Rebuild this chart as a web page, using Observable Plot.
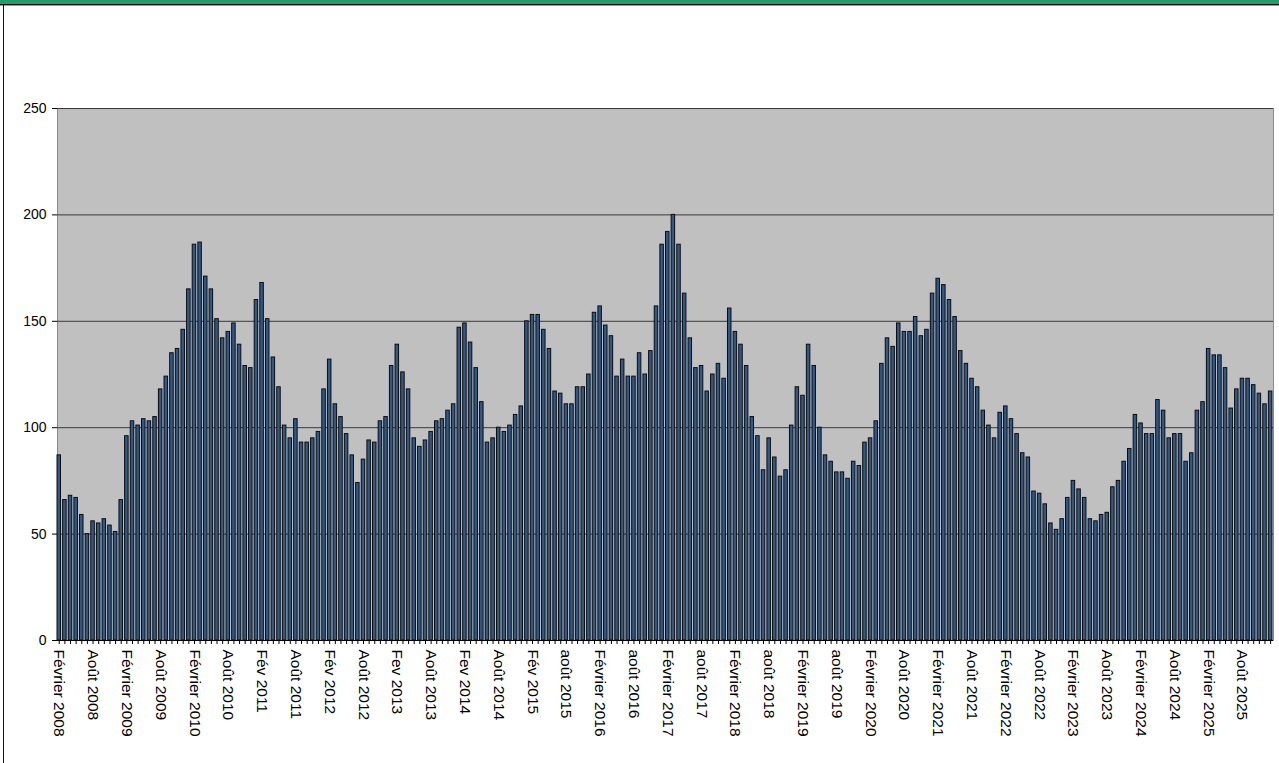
<!DOCTYPE html>
<html>
<head>
<meta charset="utf-8">
<script src="https://cdn.jsdelivr.net/npm/d3@7"></script>
<script src="https://cdn.jsdelivr.net/npm/@observablehq/plot@0.6"></script>
<style>
  html, body { margin: 0; padding: 0; background: #fff; }
  #wrap { position: relative; width: 1279px; height: 763px; overflow: hidden; font-family: "Liberation Sans", Arial, sans-serif; }
  #band { position: absolute; left: 0; top: 0; width: 1279px; height: 4px; background: #239c69; }
  #topline { position: absolute; left: 0; top: 4px; width: 1279px; height: 1px; background: #111; }
  #topline2 { position: absolute; left: 0; top: 5px; width: 1279px; height: 1px; background: #999; }
  #leftline { position: absolute; left: 3px; top: 5px; width: 1px; height: 758px; background: #111; }
  #chart { position: absolute; left: 0; top: 0; }
</style>
</head>
<body>
<div id="wrap">
  <div id="chart"></div>
  <div id="band"></div>
  <div id="topline"></div>
  <div id="topline2"></div>
  <div id="leftline"></div>
</div>
<script>
// Monthly values, February 2008 to January 2026
const values = [
  87,66,68,67,59,50,56,55,57,54,51,66,96,103,101,104,103,105,118,124,135,137,146,165,186,187,171,165,151,142,145,149,139,129,128,160,
  168,151,133,119,101,95,104,93,93,95,98,118,132,111,105,97,87,74,85,94,93,103,105,129,139,126,118,95,91,94,98,103,104,108,111,147,149,
  140,128,112,93,95,100,98,101,106,110,150,153,153,146,137,117,116,111,111,119,119,125,154,157,148,143,124,132,124,124,135,125,136,157,186,192,
  200,186,163,142,128,129,117,125,130,123,156,145,139,129,105,96,80,95,86,77,80,101,119,115,139,129,100,87,84,79,79,76,84,82,93,95,103,
  130,142,138,149,145,145,152,143,146,163,170,167,160,152,136,130,123,119,108,101,95,107,110,104,97,88,86,70,69,64,55,52,57,67,75,
  71,67,57,56,59,60,72,75,84,90,106,102,97,97,113,108,95,97,97,84,88,108,112,137,134,134,128,109,118,123,123,120,116,111,117
];

// Tick labels, one every six months starting with February 2008
const tickLabels = [
  "Février 2008","Août 2008","Février 2009","Août 2009","Février 2010","Août 2010",
  "Fév 2011","Août 2011","Fév 2012","Août 2012","Fev 2013","Août 2013",
  "Fev 2014","Août 2014","Fév 2015","août 2015","Février 2016","août 2016",
  "Février 2017","août 2017","Février 2018","août 2018","Février 2019","août 2019",
  "Février 2020","Août 2020","Février 2021","Août 2021","Février 2022","Août 2022",
  "Février 2023","Août 2023","Février 2024","Août 2024","Février 2025","Août 2025"
];

const yTicks = [0, 50, 100, 150, 200, 250];

const months = values.map((_, i) => i);
const data = months.map(i => ({m: i, v: values[i]}));

const chart = Plot.plot({
  width: 1279,
  height: 763,
  marginLeft: 57,
  marginRight: 6,
  marginTop: 108,
  marginBottom: 123,
  style: {fontFamily: "'Liberation Sans', Arial, sans-serif", fontSize: "14px", color: "#000", background: "transparent"},
  x: {type: "band", domain: months, paddingInner: 0.38, paddingOuter: 0.1, align: 0},
  y: {domain: [0, 250]},
  marks: [
    Plot.frame({fill: "#c0c0c0", stroke: "#8a8a8a"}),
    Plot.gridY(yTicks, {stroke: "#3a3a3a", strokeOpacity: 1, strokeWidth: 1}),
    Plot.barY(data, {x: "m", y: "v", fill: "#30598a", stroke: "#0d0d0d", strokeWidth: 1}),
    Plot.axisY({ticks: yTicks, tickSize: 5, tickPadding: 6, label: null, fontSize: 14}),
    Plot.axisX({
      ticks: months,
      tickSize: 4,
      tickPadding: 5,
      tickRotate: 90,
      label: null,
      fontSize: 15.5,
      tickFormat: d => d % 6 === 0 ? tickLabels[d / 6] : ""
    }),
    Plot.ruleX([0], {x: () => null, stroke: "#000"}),
    Plot.ruleY([0], {stroke: "#000"})
  ]
});
document.getElementById("chart").appendChild(chart);
</script>
</body>
</html>
